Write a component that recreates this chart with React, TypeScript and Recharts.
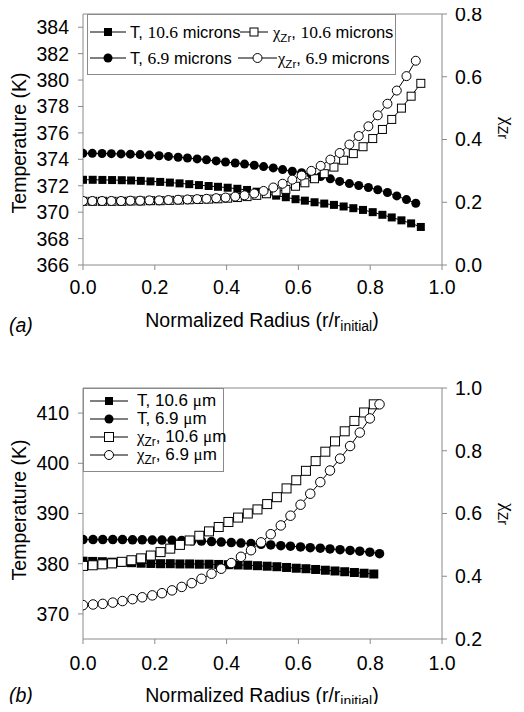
import React from 'react';
import { ScatterChart, Scatter, XAxis, YAxis, ReferenceLine } from 'recharts';

const SANS = '"Liberation Sans", Arial, sans-serif';
const SERIF = '"Liberation Serif", "Times New Roman", serif';
const AXIS = '#8a8a8a';

// ---------- Panel (a) ----------
const xTicks = [0, 0.2, 0.4, 0.6, 0.8, 1.0];
const aTempTicks = [366, 368, 370, 372, 374, 376, 378, 380, 382, 384];
const aChiTicks = [0, 0.2, 0.4, 0.6, 0.8];

const aX106 = [0.000, 0.027, 0.054, 0.081, 0.108, 0.134, 0.161, 0.188, 0.215, 0.242, 0.269, 0.296, 0.323, 0.350, 0.376, 0.403, 0.430, 0.457, 0.484, 0.511, 0.538, 0.565, 0.592, 0.618, 0.645, 0.672, 0.699, 0.726, 0.753, 0.780, 0.807, 0.834, 0.860, 0.887, 0.914, 0.941];
const aX69 = [0.000, 0.026, 0.053, 0.079, 0.106, 0.132, 0.159, 0.185, 0.212, 0.238, 0.265, 0.291, 0.318, 0.344, 0.371, 0.397, 0.424, 0.450, 0.477, 0.503, 0.530, 0.556, 0.583, 0.609, 0.636, 0.662, 0.689, 0.715, 0.742, 0.768, 0.795, 0.821, 0.848, 0.874, 0.901, 0.927];
const aT106 = [372.45, 372.45, 372.44, 372.43, 372.42, 372.40, 372.37, 372.33, 372.29, 372.24, 372.18, 372.12, 372.05, 371.98, 371.92, 371.85, 371.77, 371.68, 371.55, 371.40, 371.25, 371.13, 370.98, 370.87, 370.75, 370.65, 370.55, 370.43, 370.30, 370.17, 370.00, 369.80, 369.60, 369.38, 369.15, 368.88];
const aT69 = [374.45, 374.45, 374.44, 374.43, 374.41, 374.39, 374.36, 374.32, 374.27, 374.22, 374.16, 374.10, 374.03, 373.96, 373.88, 373.80, 373.72, 373.64, 373.55, 373.45, 373.35, 373.22, 373.10, 372.98, 372.86, 372.70, 372.52, 372.33, 372.16, 372.02, 371.87, 371.70, 371.49, 371.23, 370.95, 370.67];
const aChi106 = [0.203, 0.203, 0.203, 0.203, 0.203, 0.204, 0.204, 0.205, 0.205, 0.206, 0.207, 0.208, 0.209, 0.210, 0.211, 0.213, 0.215, 0.218, 0.222, 0.227, 0.233, 0.241, 0.251, 0.262, 0.275, 0.291, 0.312, 0.334, 0.355, 0.377, 0.403, 0.432, 0.464, 0.500, 0.538, 0.579];
const aChi69 = [0.204, 0.204, 0.204, 0.204, 0.204, 0.205, 0.205, 0.206, 0.206, 0.207, 0.208, 0.209, 0.210, 0.211, 0.213, 0.215, 0.218, 0.222, 0.228, 0.236, 0.247, 0.259, 0.272, 0.285, 0.300, 0.316, 0.336, 0.357, 0.384, 0.411, 0.442, 0.477, 0.514, 0.556, 0.602, 0.651];

// ---------- Panel (b) ----------
const bTempTicks = [370, 380, 390, 400, 410];
const bChiTicks = [0.2, 0.4, 0.6, 0.8, 1.0];
const bX106 = [0.000, 0.027, 0.054, 0.081, 0.108, 0.135, 0.162, 0.189, 0.216, 0.243, 0.270, 0.297, 0.324, 0.351, 0.378, 0.405, 0.432, 0.459, 0.486, 0.513, 0.540, 0.567, 0.594, 0.621, 0.648, 0.675, 0.702, 0.729, 0.756, 0.783, 0.810];
const bX69 = [0.000, 0.028, 0.055, 0.083, 0.110, 0.138, 0.165, 0.193, 0.220, 0.248, 0.275, 0.303, 0.330, 0.358, 0.385, 0.413, 0.440, 0.468, 0.496, 0.523, 0.551, 0.578, 0.606, 0.633, 0.661, 0.688, 0.716, 0.744, 0.771, 0.799, 0.826];
const bT106 = [380.5, 380.45, 380.4, 380.3, 380.25, 380.2, 380.1, 380.05, 380.0, 380.0, 379.95, 379.95, 379.9, 379.9, 379.85, 379.8, 379.75, 379.7, 379.6, 379.5, 379.4, 379.25, 379.1, 379.0, 378.85, 378.7, 378.55, 378.4, 378.25, 378.1, 377.95];
const bT69 = [384.8, 384.8, 384.8, 384.8, 384.8, 384.75, 384.75, 384.7, 384.7, 384.65, 384.6, 384.55, 384.5, 384.4, 384.3, 384.2, 384.1, 384.0, 383.85, 383.75, 383.6, 383.5, 383.35, 383.2, 383.1, 382.95, 382.8, 382.65, 382.5, 382.3, 382.0];
const bChi106 = [0.433, 0.435, 0.438, 0.441, 0.446, 0.451, 0.457, 0.466, 0.477, 0.488, 0.500, 0.514, 0.529, 0.543, 0.557, 0.573, 0.587, 0.600, 0.613, 0.630, 0.652, 0.680, 0.706, 0.736, 0.767, 0.797, 0.830, 0.862, 0.895, 0.922, 0.948];
const bChi69 = [0.308, 0.310, 0.312, 0.316, 0.321, 0.327, 0.333, 0.339, 0.346, 0.355, 0.366, 0.378, 0.392, 0.408, 0.424, 0.442, 0.462, 0.483, 0.508, 0.534, 0.562, 0.593, 0.628, 0.663, 0.700, 0.737, 0.775, 0.815, 0.858, 0.903, 0.948];

const pts = (xs: number[], ys: number[]) => xs.map((x, i) => ({ x, y: ys[i] }));

const mk = (kind: string, s: number) => (p: any) => {
  const { cx, cy } = p;
  if (cx == null || cy == null) return <g />;
  if (kind === 'fs') return <rect x={cx - s / 2} y={cy - s / 2} width={s} height={s} fill="#000" />;
  if (kind === 'os') return <rect x={cx - s / 2} y={cy - s / 2} width={s} height={s} fill="#fff" stroke="#000" strokeWidth={1} />;
  if (kind === 'fc') return <circle cx={cx} cy={cy} r={s / 2} fill="#000" />;
  return <circle cx={cx} cy={cy} r={s / 2} fill="#fff" stroke="#000" strokeWidth={1} />;
};

const FS = 19.5;
const tickStyle = { fill: '#000', fontSize: FS, fontFamily: SANS };
const lineStyle = { stroke: '#000', strokeWidth: 1 };

const LegendSym = ({ kind, w, s }: { kind: string; w: number; s: number }) => (
  <svg width={w} height={14} style={{ display: 'block' }}>
    <line x1={0} y1={7} x2={w} y2={7} stroke="#000" strokeWidth={1} />
    {mk(kind, s)({ cx: w / 2, cy: 7 })}
  </svg>
);

const Entry = ({ left, top, kind, w, s, textLeft, fs, children }: any) => (
  <>
    <div style={{ position: 'absolute', left, top: top - 7 }}>
      <LegendSym kind={kind} w={w} s={s} />
    </div>
    <div style={{ position: 'absolute', left: textLeft, top: top - 11, height: 22, lineHeight: '22px', whiteSpace: 'nowrap', fontSize: fs, fontFamily: SANS, color: '#000' }}>
      {children}
    </div>
  </>
);

const Chi = ({ fs }: { fs: number }) => (
  <>
    <span style={{ fontFamily: SERIF, fontSize: fs }}>χ</span>
    <span style={{ fontSize: fs * 0.7, position: 'relative', top: 4 }}>Zr</span>
  </>
);
const Ser = ({ t }: { t: string }) => <span style={{ fontFamily: SERIF, fontSize: 17.5 }}>{t}</span>;
const Mu = () => <span style={{ fontFamily: SERIF }}>μ</span>;

export default function App() {
  return (
    <div style={{ position: 'relative', width: 524, height: 712, margin: -8, background: '#fff' }}>
      <div style={{ position: 'absolute', left: 0, top: 0 }}>
        <ScatterChart width={524} height={340} margin={{ top: 14, right: 0, bottom: 0, left: 0 }}>
          <XAxis type="number" dataKey="x" domain={[0, 1]} ticks={xTicks} interval={0} tickFormatter={(v: number) => v.toFixed(1)} height={75} stroke={AXIS} tick={tickStyle} tickSize={5} tickMargin={10} allowDataOverflow />
          <YAxis yAxisId="L" type="number" dataKey="y" domain={[366, 385]} ticks={aTempTicks} interval={0} width={83} stroke={AXIS} tick={tickStyle} tickSize={5} tickMargin={9} allowDataOverflow />
          <YAxis yAxisId="R" orientation="right" type="number" dataKey="y" domain={[0, 0.8]} ticks={aChiTicks} interval={0} tickFormatter={(v: number) => v.toFixed(1)} width={82} stroke={AXIS} tick={tickStyle} tickSize={5} tickMargin={8} allowDataOverflow />
          <ReferenceLine yAxisId="L" y={385} stroke={AXIS} />
          <Scatter yAxisId="L" data={pts(aX106, aT106)} line={lineStyle} lineType="joint" shape={mk('fs', 8)} isAnimationActive={false} />
          <Scatter yAxisId="L" data={pts(aX69, aT69)} line={lineStyle} lineType="joint" shape={mk('fc', 9)} isAnimationActive={false} />
          <Scatter yAxisId="R" data={pts(aX106, aChi106)} line={lineStyle} lineType="joint" shape={mk('os', 8)} isAnimationActive={false} />
          <Scatter yAxisId="R" data={pts(aX69, aChi69)} line={lineStyle} lineType="joint" shape={mk('oc', 9)} isAnimationActive={false} />
        </ScatterChart>
      </div>
      <div style={{ position: 'absolute', left: 0, top: 340 }}>
        <ScatterChart width={524} height={372} margin={{ top: 48, right: 0, bottom: 0, left: 0 }}>
          <XAxis type="number" dataKey="x" domain={[0, 1]} ticks={xTicks} interval={0} tickFormatter={(v: number) => v.toFixed(1)} height={73} stroke={AXIS} tick={tickStyle} tickSize={5} tickMargin={12} allowDataOverflow />
          <YAxis yAxisId="L" type="number" dataKey="y" domain={[365, 415]} ticks={bTempTicks} interval={0} width={83} stroke={AXIS} tick={tickStyle} tickSize={5} tickMargin={9} allowDataOverflow />
          <YAxis yAxisId="R" orientation="right" type="number" dataKey="y" domain={[0.2, 1.0]} ticks={bChiTicks} interval={0} tickFormatter={(v: number) => v.toFixed(1)} width={82} stroke={AXIS} tick={tickStyle} tickSize={5} tickMargin={8} allowDataOverflow />
          <ReferenceLine yAxisId="L" y={415} stroke={AXIS} />
          <Scatter yAxisId="L" data={pts(bX106, bT106)} line={lineStyle} lineType="joint" shape={mk('fs', 9)} isAnimationActive={false} />
          <Scatter yAxisId="L" data={pts(bX69, bT69)} line={lineStyle} lineType="joint" shape={mk('fc', 9.5)} isAnimationActive={false} />
          <Scatter yAxisId="R" data={pts(bX106, bChi106)} line={lineStyle} lineType="joint" shape={mk('os', 9)} isAnimationActive={false} />
          <Scatter yAxisId="R" data={pts(bX69, bChi69)} line={lineStyle} lineType="joint" shape={mk('oc', 9.5)} isAnimationActive={false} />
        </ScatterChart>
      </div>

      {/* titles */}
      <svg width={524} height={712} style={{ position: 'absolute', left: 0, top: 0, pointerEvents: 'none' }}>
        <g fontFamily={SANS} fill="#000">
          <text x={19} y={143} fontSize={FS} textAnchor="middle" dominantBaseline="central" transform="rotate(-90 19 143)">Temperature (K)</text>
          <text x={19} y={510} fontSize={FS} textAnchor="middle" dominantBaseline="central" transform="rotate(-90 19 510)">Temperature (K)</text>
          <text x={262} y={327} fontSize={FS} textAnchor="middle">Normalized Radius (r/r<tspan fontSize={14} dy={4}>initial</tspan><tspan dy={-4}>)</tspan></text>
          <text x={262} y={702} fontSize={FS} textAnchor="middle">Normalized Radius (r/r<tspan fontSize={14} dy={4}>initial</tspan><tspan dy={-4}>)</tspan></text>
          <text x={9} y={332} fontSize={FS} fontStyle="italic">(a)</text>
          <text x={9} y={702} fontSize={FS} fontStyle="italic">(b)</text>
          <text x={502} y={128} fontSize={FS} textAnchor="middle" transform="rotate(90 502 128)"><tspan fontFamily={SERIF}>χ</tspan><tspan fontSize={14} dy={4}>Zr</tspan></text>
          <text x={502} y={514} fontSize={FS} textAnchor="middle" transform="rotate(90 502 514)"><tspan fontFamily={SERIF}>χ</tspan><tspan fontSize={14} dy={4}>Zr</tspan></text>
        </g>
      </svg>

      {/* legend (a) */}
      <div style={{ position: 'absolute', left: 87, top: 14, width: 309, height: 61, border: `1px solid ${AXIS}`, boxSizing: 'border-box', background: '#fff' }}>
        <Entry left={2} top={17} kind="fs" w={36} s={8} textLeft={42} fs={16.5}>T, <Ser t="10.6" /> microns</Entry>
        <Entry left={152} top={17} kind="os" w={28} s={8} textLeft={185} fs={16.5}><Chi fs={16.5} />, <Ser t="10.6" /> microns</Entry>
        <Entry left={2} top={43} kind="fc" w={36} s={9} textLeft={42} fs={16.5}>T, <Ser t="6.9" /> microns</Entry>
        <Entry left={150} top={43} kind="oc" w={39} s={9} textLeft={190} fs={16.5}><Chi fs={16.5} />, <Ser t="6.9" /> microns</Entry>
      </div>

      {/* legend (b) */}
      <div style={{ position: 'absolute', left: 83, top: 388, width: 141, height: 84, border: `1px solid ${AXIS}`, boxSizing: 'border-box', background: '#fff' }}>
        <Entry left={6} top={12} kind="fs" w={38} s={8} textLeft={53} fs={17}>T, 10.6 <Mu />m</Entry>
        <Entry left={6} top={30} kind="fc" w={38} s={9} textLeft={53} fs={17}>T, 6.9 <Mu />m</Entry>
        <Entry left={6} top={48} kind="os" w={38} s={9} textLeft={53} fs={17}><Chi fs={17} />, 10.6 <Mu />m</Entry>
        <Entry left={6} top={66} kind="oc" w={38} s={9} textLeft={53} fs={17}><Chi fs={17} />, 6.9 <Mu />m</Entry>
      </div>
    </div>
  );
}
